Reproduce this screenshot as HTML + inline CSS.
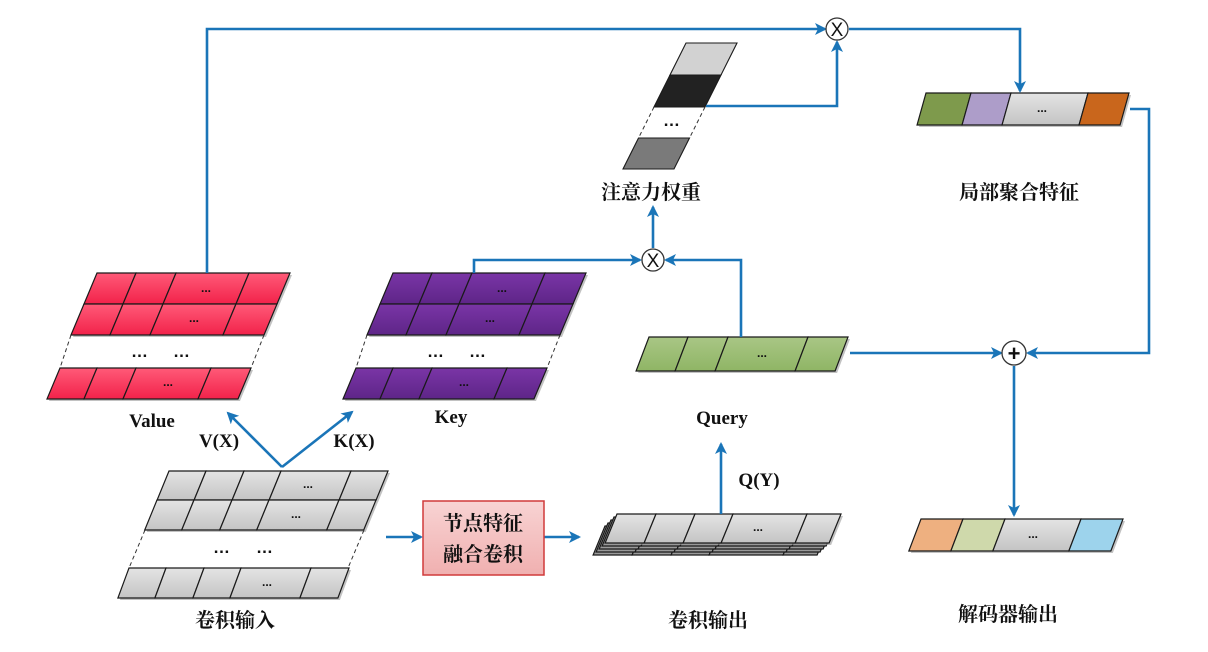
<!DOCTYPE html>
<html><head><meta charset="utf-8">
<style>
html,body{margin:0;padding:0;background:#fff;}
svg{display:block;}
.cn{font-family:"Liberation Serif","Noto Serif CJK SC","Noto Sans CJK SC",serif;font-weight:bold;font-size:20px;fill:#111;}
.en{font-family:"Liberation Serif",serif;font-weight:bold;font-size:19px;fill:#111;}
.dots{font-family:"Liberation Sans",sans-serif;font-weight:bold;font-size:12px;fill:#111;}
.bigdots{font-family:"Liberation Sans",sans-serif;font-weight:bold;font-size:17px;fill:#111;letter-spacing:1px;}
</style></head>
<body>
<svg id="s" width="1208" height="652" viewBox="0 0 1208 652" xmlns="http://www.w3.org/2000/svg">
<defs>
<marker id="ar" markerWidth="12" markerHeight="12" refX="10" refY="6" orient="auto" markerUnits="userSpaceOnUse">
<path d="M0,0 L12,6 L0,12 L3,6 Z" fill="#1a75b8"/>
</marker>
<linearGradient id="gRed" x1="0" y1="0" x2="0" y2="1"><stop offset="0" stop-color="#ff5a78"/><stop offset="1" stop-color="#f2224a"/></linearGradient>
<linearGradient id="gPur" x1="0" y1="0" x2="0" y2="1"><stop offset="0" stop-color="#7a35a6"/><stop offset="1" stop-color="#5e2588"/></linearGradient>
<linearGradient id="gGray" x1="0" y1="0" x2="0" y2="1"><stop offset="0" stop-color="#e4e4e4"/><stop offset="1" stop-color="#c4c4c4"/></linearGradient>
<linearGradient id="gGrn" x1="0" y1="0" x2="0" y2="1"><stop offset="0" stop-color="#a9c685"/><stop offset="1" stop-color="#8fb565"/></linearGradient>
<linearGradient id="gBox" x1="0" y1="0" x2="0" y2="1"><stop offset="0" stop-color="#f8d3d3"/><stop offset="1" stop-color="#f0b0b0"/></linearGradient>
</defs>
<g id="shapes"></g>
<g fill="none" stroke="#1a75b8" stroke-width="2.6">
<polyline points="207,273 207,29 825,29" marker-end="url(#ar)"/>
<polyline points="849,29 1020,29 1020,91" marker-end="url(#ar)"/>
<polyline points="706,106 837,106 837,42" marker-end="url(#ar)"/>
<polyline points="474,273 474,260 640,260" marker-end="url(#ar)"/>
<polyline points="741,337 741,260 666,260" marker-end="url(#ar)"/>
<polyline points="653,248 653,207" marker-end="url(#ar)"/>
<polyline points="850,353 1001,353" marker-end="url(#ar)"/>
<polyline points="1130,109 1149,109 1149,353 1028,353" marker-end="url(#ar)"/>
<polyline points="1014,366 1014,515" marker-end="url(#ar)"/>
<polyline points="282,467 228,413" marker-end="url(#ar)"/>
<polyline points="282,467 352,412" marker-end="url(#ar)"/>
<polyline points="386,537 421,537" marker-end="url(#ar)"/>
<polyline points="544,537 579,537" marker-end="url(#ar)"/>
<polyline points="721,514 721,444" marker-end="url(#ar)"/>
</g>
<g stroke="#333" stroke-width="1.3" fill="#fff">
<circle cx="837" cy="29" r="11"/>
<circle cx="653" cy="260" r="11"/>
<circle cx="1014" cy="353" r="12"/>
</g>
<text x="837" y="36" text-anchor="middle" font-family="Liberation Sans,sans-serif" font-size="19" fill="#111">X</text>
<text x="653" y="267" text-anchor="middle" font-family="Liberation Sans,sans-serif" font-size="19" fill="#111">X</text>
<text x="1014" y="361" text-anchor="middle" font-family="Liberation Sans,sans-serif" font-size="22" font-weight="bold" fill="#111">+</text>
<rect x="423" y="501" width="121" height="74" fill="url(#gBox)" stroke="#d03a3a" stroke-width="1.5"/>
<text class="cn" x="483" y="530" text-anchor="middle">节点特征</text>
<text class="cn" x="483" y="561" text-anchor="middle">融合卷积</text>
<text class="en" x="152" y="427" text-anchor="middle">Value</text>
<text class="en" x="451" y="423" text-anchor="middle">Key</text>
<text class="en" x="722" y="424" text-anchor="middle">Query</text>
<text class="en" x="219" y="447" text-anchor="middle" font-weight="normal">V(X)</text>
<text class="en" x="354" y="447" text-anchor="middle" font-weight="normal">K(X)</text>
<text class="en" x="759" y="486" text-anchor="middle" font-weight="normal">Q(Y)</text>
<text class="cn" x="651" y="199" text-anchor="middle">注意力权重</text>
<text class="cn" x="1019" y="199" text-anchor="middle">局部聚合特征</text>
<text class="cn" x="235" y="627" text-anchor="middle">卷积输入</text>
<text class="cn" x="708" y="627" text-anchor="middle">卷积输出</text>
<text class="cn" x="1008" y="621" text-anchor="middle">解码器输出</text>
<text class="bigdots" x="140" y="357" text-anchor="middle">…</text>
<text class="bigdots" x="182" y="357" text-anchor="middle">…</text>
<text class="bigdots" x="436" y="357" text-anchor="middle">…</text>
<text class="bigdots" x="478" y="357" text-anchor="middle">…</text>
<text class="bigdots" x="222" y="553" text-anchor="middle">…</text>
<text class="bigdots" x="265" y="553" text-anchor="middle">…</text>
<text class="bigdots" x="672" y="126" text-anchor="middle">…</text>
<g class="dots" text-anchor="middle">
<text x="206" y="292">...</text><text x="194" y="322">...</text><text x="168" y="386">...</text>
<text x="502" y="292">...</text><text x="490" y="322">...</text><text x="464" y="386">...</text>
<text x="308" y="488">...</text><text x="296" y="518">...</text><text x="267" y="586">...</text>
<text x="762" y="357">...</text>
<text x="758" y="531">...</text>
<text x="1042" y="112">...</text>
<text x="1033" y="538">...</text>
</g>
</svg>
<script>
(function(){
var g=document.getElementById('shapes'),NS='http://www.w3.org/2000/svg';
function el(t,a){var e=document.createElementNS(NS,t);for(var k in a)e.setAttribute(k,a[k]);g.appendChild(e);return e;}
function row(x,y,w,h,k,divs,fills,shadow){
  var s=k*h;
  if(shadow!==false) el('polygon',{points:[[x+2,y+2],[x+w+2,y+2],[x+w-s+2,y+h+2],[x-s+2,y+h+2]].join(' '),fill:'#999',opacity:'0.6'});
  var pts=[0].concat(divs).concat([w]);
  for(var i=0;i<pts.length-1;i++){
    var a=pts[i],b=pts[i+1];
    el('polygon',{points:[[x+a,y],[x+b,y],[x+b-s,y+h],[x+a-s,y+h]].join(' '),fill:fills[i%fills.length],stroke:'#1a1a1a','stroke-width':1.2});
  }
}
function dash(x1,y1,x2,y2){el('line',{x1:x1,y1:y1,x2:x2,y2:y2,stroke:'#333','stroke-width':1,'stroke-dasharray':'4,3'});}
var R=['url(#gRed)'],P=['url(#gPur)'],G=['url(#gGray)'];
function grid(dx,f){
  row(97+dx,273,193,31,0.42,[39,79,152],f);
  row(84+dx,304,193,31,0.42,[39,79,152],f);
  dash(71+dx,335,60+dx,368);dash(264+dx,335,251+dx,368);
  row(60+dx,368,191,31,0.42,[37,76,151],f);
}
grid(0,R);grid(296,P);
row(169,471,219,29,0.41,[37,75,112,182],G);
row(157,500,219,30,0.41,[37,75,112,182],G);
dash(145,530,129,568);dash(364,530,348,568);
row(129,568,220,30,0.37,[37,75,112,182],G);
for(var i=4;i>=1;i--){row(617-3*i,514+3*i,224,29,0.41,[39,78,116,190],['#9a9a9a'],false);}
row(617,514,224,29,0.41,[39,78,116,190],G);
row(649,337,199,34,0.38,[39,79,159],['url(#gGrn)']);
row(926,93,203,32,0.28,[45,85,162],['#7e9a4c','#ad9dc9','url(#gGray)','#c9661c']);
row(921,519,202,32,0.38,[42,84,160],['#eeb080','#cfd9ab','url(#gGray)','#9dd3ec']);
var k=0.5,x=686,y=43,w=51,h=31;
function cell(yy,hh,f,st){var o=(yy-43)*k;el('polygon',{points:[[x-o,yy],[x+w-o,yy],[x+w-o-hh*k,yy+hh],[x-o-hh*k,yy+hh]].join(' '),fill:f,stroke:st||'#1a1a1a','stroke-width':1.1});}
cell(43,32,'#d2d2d2');cell(75,32,'#222');
dash(686-64*k,107,686-95*k,138);dash(737-64*k,107,737-95*k,138);
cell(138,31,'#7a7a7a');
})();
</script>
</body></html>
